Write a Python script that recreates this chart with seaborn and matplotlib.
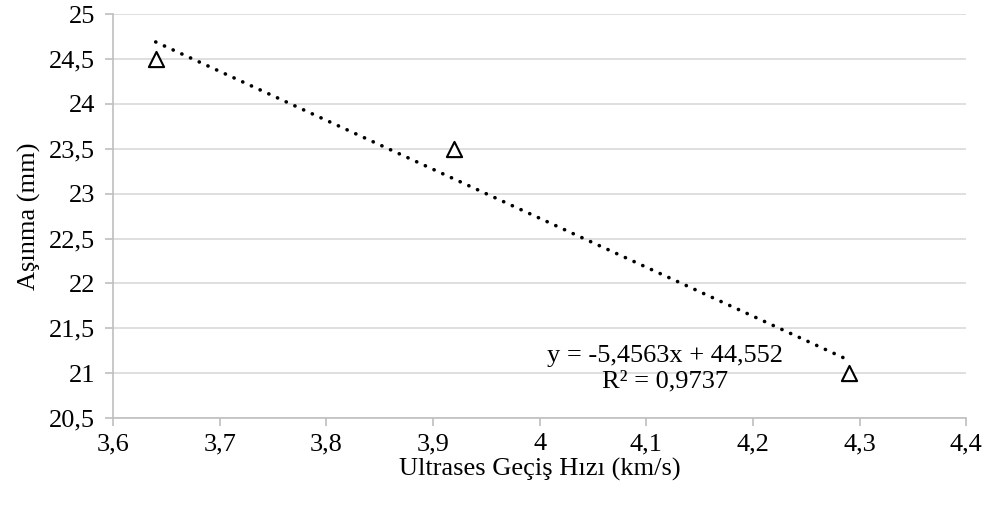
import matplotlib
matplotlib.use("Agg")
import matplotlib.pyplot as plt
import seaborn as sns
import numpy as np
import pandas as pd
from matplotlib.ticker import FuncFormatter

hiz = [3.64, 3.92, 4.29]
asinma = [24.5, 23.5, 21.0]
slope, intercept = -5.4563, 44.552
eq_text = "y = -5,4563x + 44,552\nR² = 0,9737"

sns.set_theme(style="white")
plt.rcParams['font.family'] = ['Liberation Serif', 'DejaVu Serif']

fig = plt.figure(figsize=(9.89, 5.08), dpi=100)
ax = fig.add_axes([0.1143, 0.177, 0.8627, 0.795])

df = pd.DataFrame({"x": hiz, "y": asinma})
xs = np.array([min(hiz), max(hiz)])
ax.plot(xs, slope * xs + intercept, color="black", linestyle=(0, (0.05, 2.6)), linewidth=2.6,
        dash_capstyle="round", solid_capstyle="round", zorder=2)
sns.scatterplot(data=df, x="x", y="y", ax=ax, marker="^", s=120, facecolor="white",
                edgecolor="black", linewidth=1.5, zorder=3)

ax.set_xlim(3.6, 4.4)
ax.set_ylim(20.5, 25)
ax.set_xticks(np.arange(3.6, 4.41, 0.1))
ax.set_yticks(np.arange(20.5, 25.01, 0.5))
fmt = FuncFormatter(lambda v, p: (f"{v:.1f}".rstrip("0").rstrip(".")).replace(".", ","))
ax.xaxis.set_major_formatter(fmt)
ax.yaxis.set_major_formatter(fmt)
ax.grid(axis="y", color="#d9d9d9", linewidth=1.2)
ax.set_axisbelow(True)
for s in ["top", "right"]:
    ax.spines[s].set_visible(False)
for s in ["left", "bottom"]:
    ax.spines[s].set_color("#bfbfbf")
    ax.spines[s].set_linewidth(1.2)
ax.tick_params(axis="both", which="major", length=6, width=1.2, color="#bfbfbf",
               labelsize=19, labelcolor="black", direction="out", pad=7,
               bottom=True, left=True)
ax.tick_params(axis="x", pad=5)
ax.set_xlabel("Ultrases Geçiş Hızı (km/s)", fontsize=19, color="black", labelpad=2)
ax.set_ylabel("Aşınma (mm)", fontsize=19, color="black", labelpad=6)

ax.text(4.118, 21.055, eq_text, ha="center", va="center", fontsize=19, color="black",
        linespacing=1.2, zorder=4)

fig.savefig("out.png", dpi=100)
